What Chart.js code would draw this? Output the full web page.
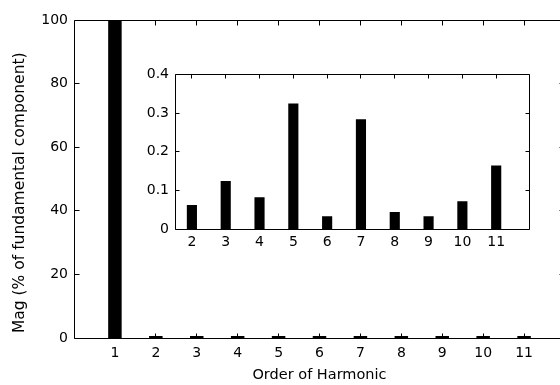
<!DOCTYPE html>
<html>
<head>
<meta charset="utf-8">
<script src="https://cdn.jsdelivr.net/npm/chart.js@4.4.0/dist/chart.umd.min.js"></script>
<style>
  html, body { margin: 0; padding: 0; background: #fff; overflow: hidden; }
  #wrap { position: relative; width: 560px; height: 385px; overflow: hidden; }
  #mainChart { position: absolute; left: 0; top: 0; width: 580px; height: 385px; }
  #insetChart { position: absolute; left: 140px; top: 60px; width: 400px; height: 195px; }
</style>
</head>
<body>
<div id="wrap">
  <canvas id="mainChart" width="580" height="385"></canvas>
  <canvas id="insetChart" width="400" height="195"></canvas>
</div>
<script>
// harmonic spectrum, % of fundamental
const harmonics = [1, 2, 3, 4, 5, 6, 7, 8, 9, 10, 11];
const magnitudes = [100, 0.062, 0.124, 0.082, 0.325, 0.033, 0.284, 0.044, 0.033, 0.072, 0.164];

// zoomed view without the fundamental
const insetHarmonics = harmonics.slice(1);
const insetMagnitudes = magnitudes.slice(1);

const mainYTicks = [0, 20, 40, 60, 80, 100];
const insetYTicks = [0, 0.1, 0.2, 0.3, 0.4];

Chart.defaults.font.family = '"DejaVu Sans", sans-serif';
Chart.defaults.font.size = 14;
Chart.defaults.color = '#000';

const crisp = v => Math.floor(v) + 0.5;

// matlab style box with ticks pointing inside
const inwardTicks = {
  id: 'inwardTicks',
  afterDraw(chart, args, opts) {
    const {ctx, chartArea: a, scales: {x, y}} = chart;
    const len = opts.length || 5;
    const L = crisp(a.left), R = crisp(a.right - 1);
    const T = crisp(a.top), B = crisp(a.bottom);
    ctx.save();
    ctx.strokeStyle = '#000';
    ctx.lineWidth = 1;
    ctx.beginPath();
    ctx.moveTo(L, T); ctx.lineTo(R, T); ctx.lineTo(R, B); ctx.lineTo(L, B); ctx.lineTo(L, T);
    x.ticks.forEach(t => {
      const px = crisp(x.getPixelForValue(t.value));
      ctx.moveTo(px, B); ctx.lineTo(px, B - len);
      ctx.moveTo(px, T); ctx.lineTo(px, T + len);
    });
    y.ticks.forEach(t => {
      const py = crisp(y.getPixelForValue(t.value));
      ctx.moveTo(L, py); ctx.lineTo(L + len, py);
      ctx.moveTo(R, py); ctx.lineTo(R - len, py);
    });
    ctx.stroke();
    ctx.restore();
  }
};

function setTicks(values) {
  return scale => { scale.ticks = values.map(v => ({value: v})); };
}

const noGrid = { display: false, drawTicks: false, tickLength: 0 };

new Chart(document.getElementById('mainChart'), {
  type: 'bar',
  data: {
    datasets: [{
      data: harmonics.map((h, i) => ({x: h, y: magnitudes[i]})),
      backgroundColor: '#000',
      borderWidth: 0,
      minBarLength: 2,
      barPercentage: 0.33,
      categoryPercentage: 1
    }]
  },
  options: {
    responsive: false,
    animation: false,
    layout: { padding: { left: 0, top: 20, right: 15, bottom: 0 } },
    plugins: {
      legend: { display: false },
      tooltip: { enabled: false },
      inwardTicks: { length: 5 }
    },
    scales: {
      x: {
        type: 'linear',
        offset: false,
        min: 0,
        max: 12,
        afterBuildTicks: setTicks(harmonics),
        afterFit: s => { s.height = 47; },
        grid: noGrid,
        border: { display: false },
        ticks: { padding: 7, maxRotation: 0, autoSkip: false, callback: v => String(v) },
        title: { display: true, text: 'Order of Harmonic', font: { size: 14.5 }, padding: { top: 0, bottom: 1 } }
      },
      y: {
        min: 0,
        max: 100,
        afterBuildTicks: setTicks(mainYTicks),
        afterFit: s => { s.width = 74; },
        grid: noGrid,
        border: { display: false },
        ticks: { padding: 6, callback: v => String(v) },
        title: {
          display: true,
          text: ' Mag (% of fundamental component)',
          align: 'start',
          font: { size: 15.5 },
          padding: { top: 11, bottom: 0 }
        }
      }
    }
  },
  plugins: [inwardTicks]
});

new Chart(document.getElementById('insetChart'), {
  type: 'bar',
  data: {
    datasets: [{
      data: insetHarmonics.map((h, i) => ({x: h, y: insetMagnitudes[i]})),
      backgroundColor: '#000',
      borderWidth: 0,
      barPercentage: 0.3,
      categoryPercentage: 1
    }]
  },
  options: {
    responsive: false,
    animation: false,
    layout: { padding: { left: 0, top: 12, right: 10, bottom: 0 } },
    plugins: {
      legend: { display: false },
      tooltip: { enabled: false },
      inwardTicks: { length: 4 }
    },
    scales: {
      x: {
        type: 'linear',
        offset: false,
        min: 1.5,
        max: 12,
        afterBuildTicks: setTicks(insetHarmonics),
        afterFit: s => { s.height = 26; },
        grid: noGrid,
        border: { display: false },
        ticks: { padding: 5, maxRotation: 0, autoSkip: false, callback: v => String(v) }
      },
      y: {
        min: 0,
        max: 0.4,
        afterBuildTicks: setTicks(insetYTicks),
        afterFit: s => { s.width = 35; },
        grid: noGrid,
        border: { display: false },
        ticks: { padding: 6, callback: v => String(v) }
      }
    }
  },
  plugins: [inwardTicks]
});
</script>
</body>
</html>
